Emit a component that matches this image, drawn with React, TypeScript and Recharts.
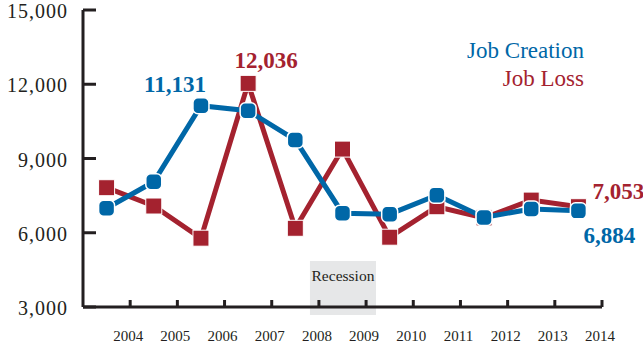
import React from "react";
import { LineChart, Line, XAxis, YAxis, ReferenceArea, Customized } from "recharts";

// year labels sit on the tick at the end of each yearly band
const years = ["2004", "2005", "2006", "2007", "2008", "2009", "2010", "2011", "2012", "2013", "2014"];
const jobCreation = [6990, 8060, 11131, 10930, 9750, 6790, 6750, 7520, 6620, 6960, 6884];
const jobLoss = [7820, 7080, 5780, 12036, 6180, 9380, 5820, 7050, 6600, 7320, 7053];
const yTicks = [3000, 6000, 9000, 12000, 15000];
const xTicks = [1, 2, 3, 4, 5, 6, 7, 8, 9, 10, 11];

const BLUE = "#0067a7";
const RED = "#a4222f";
const INK = "#231f20";
const FONT = "'Liberation Serif', 'Times New Roman', serif";

const data = jobCreation.map((v, i) => ({
  pos: i + 0.5,
  creation: v,
  loss: jobLoss[i],
}));

const fmt = (n: number) => n.toLocaleString("en-US");

const YTick = (props: any) => {
  const { x, y, payload } = props;
  return (
    <g>
      <line x1={x} x2={x + 13} y1={y} y2={y} stroke={INK} strokeWidth={3} />
      <text x={x - 15} y={y} dy={8} textAnchor="end" fill={INK} fontSize={20} letterSpacing={1} fontFamily={FONT}>
        {fmt(payload.value)}
      </text>
    </g>
  );
};

const XTick = (props: any) => {
  const { x, y, payload } = props;
  return (
    <g>
      <line x1={x} x2={x} y1={y} y2={y - 7} stroke={INK} strokeWidth={3} />
      <text x={x - 2} y={y + 34} textAnchor="middle" fill={INK} fontSize={15} fontFamily={FONT}>
        {years[payload.value - 1]}
      </text>
    </g>
  );
};

const BlueDot = (props: any) => {
  const { cx, cy } = props;
  return <rect x={cx - 8} y={cy - 8} width={16} height={16} rx={5} fill={BLUE} stroke="#fff" strokeWidth={1.5} />;
};

const RedDot = (props: any) => {
  const { cx, cy } = props;
  return <rect x={cx - 8} y={cy - 8} width={16} height={16} fill={RED} stroke="#fff" strokeWidth={1} />;
};

const CreationLabel = (props: any) => {
  const { x, y, value, index } = props;
  if (index === 2)
    return (
      <text x={x - 26} y={y - 14} textAnchor="middle" fill={BLUE} fontSize={23} fontWeight="bold" fontFamily={FONT}>
        {fmt(value)}
      </text>
    );
  if (index === jobCreation.length - 1)
    return (
      <text x={x + 5} y={y + 32} textAnchor="start" fill={BLUE} fontSize={23} fontWeight="bold" fontFamily={FONT}>
        {fmt(value)}
      </text>
    );
  return null;
};

const LossLabel = (props: any) => {
  const { x, y, value, index } = props;
  if (index === 3)
    return (
      <text x={x + 18} y={y - 15} textAnchor="middle" fill={RED} fontSize={23} fontWeight="bold" fontFamily={FONT}>
        {fmt(value)}
      </text>
    );
  if (index === jobLoss.length - 1)
    return (
      <text x={x + 14} y={y - 8} textAnchor="start" fill={RED} fontSize={23} fontWeight="bold" fontFamily={FONT}>
        {fmt(value)}
      </text>
    );
  return null;
};

const RecessionLabel = (props: any) => {
  const { viewBox } = props;
  const { x, y, width } = viewBox;
  return (
    <text x={x + width / 2} y={y + 20} textAnchor="middle" fill={INK} fontSize={15.5} fontFamily={FONT}>
      Recession
    </text>
  );
};

const Legend = () => (
  <g fontFamily={FONT} fontSize={23}>
    <text x={584} y={58} textAnchor="end" fill={BLUE}>Job Creation</text>
    <text x={584} y={86} textAnchor="end" fill={RED}>Job Loss</text>
  </g>
);

export default function App() {
  return (
    <div style={{ position: "absolute", left: 0, top: 0, width: 643, height: 348, background: "#fff" }}>
      <LineChart width={643} height={348} data={data} margin={{ top: 10, right: 41, bottom: 0, left: 0 }}>
        <ReferenceArea
          x1={4.81}
          x2={6.21}
          y1={2680}
          y2={4860}
          fill="#e6e7e8"
          fillOpacity={1}
          stroke="none"
          ifOverflow="visible"
          label={<RecessionLabel />}
        />
        <XAxis
          dataKey="pos"
          type="number"
          domain={[0, 11]}
          ticks={xTicks}
          interval={0}
          height={41}
          tickSize={0}
          tickMargin={0}
          tickLine={false}
          axisLine={{ stroke: INK, strokeWidth: 3 }}
          tick={<XTick />}
        />
        <YAxis
          type="number"
          domain={[3000, 15000]}
          ticks={yTicks}
          interval={0}
          width={83}
          tickSize={0}
          tickMargin={0}
          tickLine={false}
          axisLine={{ stroke: INK, strokeWidth: 3 }}
          tick={<YTick />}
        />
        <Line
          dataKey="loss"
          stroke={RED}
          strokeWidth={5}
          dot={<RedDot />}
          activeDot={false}
          isAnimationActive={false}
          label={<LossLabel />}
        />
        <Line
          dataKey="creation"
          stroke={BLUE}
          strokeWidth={5}
          dot={<BlueDot />}
          activeDot={false}
          isAnimationActive={false}
          label={<CreationLabel />}
        />
        <Customized component={<Legend />} />
      </LineChart>
    </div>
  );
}
